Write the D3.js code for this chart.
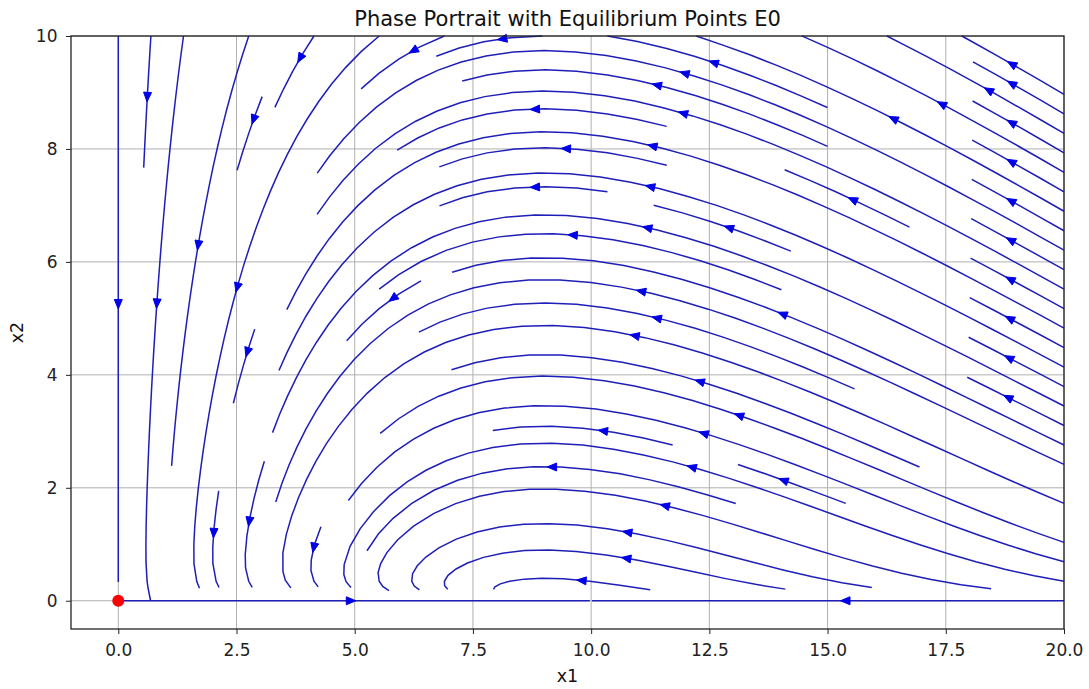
<!DOCTYPE html>
<html>
<head>
<meta charset="utf-8">
<script src="https://cdn.jsdelivr.net/npm/d3@7"></script>
<style>
  body { margin: 0; background: #fff; }
  svg { display: block; font-family: 'DejaVu Sans', sans-serif; }
</style>
</head>
<body>
<script>
// system: x1' = r*x1*(1 - x1/K) - a*x1*x2 ,  x2' = b*x1*x2 - d*x2
const preyGrowth = [1.0, 10.0]        // r, K
const interaction = [1.0, 1.0, 9.0]   // a, b, d
const x1Extent = [0, 20]
const x2Extent = [0, 10]
const gridPoints = [20, 20]
const equilibria = [[0, 0]]
const xTicks = [0, 2.5, 5, 7.5, 10, 12.5, 15, 17.5, 20]
const yTicks = [0, 2, 4, 6, 8, 10]

const W = 1089, H = 689
const margin = { left: 71, right: 25, top: 36, bottom: 60 }

const field = (x1, x2) => {
    const [r, K] = preyGrowth
    const [a, b, d] = interaction
    return [r * x1 * (1 - x1 / K) - a * x1 * x2, b * x1 * x2 - d * x2]
}

// same idea as matplotlib's streamplot (density 1)
const buildStreamlines = () => {
    const [nx, ny] = gridPoints
    const dx = (x1Extent[1] - x1Extent[0]) / (nx - 1)
    const dy = (x2Extent[1] - x2Extent[0]) / (ny - 1)
    const ug = [], vg = [], speed = []
    for (let j = 0; j < ny; j++) {
        ug.push([]); vg.push([]); speed.push([])
        for (let i = 0; i < nx; i++) {
            const [u, v] = field(x1Extent[0] + i * dx, x2Extent[0] + j * dy)
            ug[j].push(u / dx)
            vg[j].push(v / dy)
            speed[j].push(Math.hypot(u / dx / (nx - 1), v / dy / (ny - 1)))
        }
    }

    const mnx = 30, mny = 30
    const mask = d3.range(mny).map(() => new Array(mnx).fill(0))
    let traj = [], current = null
    const g2mx = (mnx - 1) / (nx - 1), g2my = (mny - 1) / (ny - 1)

    const pyRound = v => {
        const f = Math.floor(v), r = v - f
        if (r > 0.5) return f + 1
        if (r < 0.5) return f
        return f % 2 === 0 ? f : f + 1
    }
    const toMask = (xg, yg) => [pyRound(xg * g2mx), pyRound(yg * g2my)]
    const within = (xi, yi) => xi >= 0 && xi <= nx - 1 && yi >= 0 && yi <= ny - 1

    const OOB = 'oob', TERM = 'term', INV = 'inv'

    const maskUpdate = (xm, ym) => {
        if (!current || current[0] !== xm || current[1] !== ym) {
            if (mask[ym][xm] === 0) {
                traj.push([ym, xm])
                mask[ym][xm] = 1
                current = [xm, ym]
            } else {
                throw INV
            }
        }
    }
    const updateTraj = (xg, yg) => {
        if (!within(xg, yg)) throw INV
        const [xm, ym] = toMask(xg, yg)
        maskUpdate(xm, ym)
    }

    const interp = (a, xi, yi) => {
        const x = Math.trunc(xi), y = Math.trunc(yi)
        const xn = x === nx - 1 ? x : x + 1
        const yn = y === ny - 1 ? y : y + 1
        const xt = xi - x, yt = yi - y
        const a0 = a[y][x] * (1 - xt) + a[y][xn] * xt
        const a1 = a[yn][x] * (1 - xt) + a[yn][xn] * xt
        return a0 * (1 - yt) + a1 * yt
    }

    const forward = (xi, yi) => {
        if (!within(xi, yi)) throw OOB
        const ds = interp(speed, xi, yi)
        if (ds === 0) throw TERM
        return [interp(ug, xi, yi) / ds, interp(vg, xi, yi) / ds]
    }
    const backward = (xi, yi) => {
        const [a, b] = forward(xi, yi)
        return [-a, -b]
    }

    const eulerStep = (pts, f) => {
        const [xi, yi] = pts[pts.length - 1]
        const [cx, cy] = f(xi, yi)
        const dsx = cx === 0 ? Infinity : cx < 0 ? xi / -cx : (nx - 1 - xi) / cx
        const dsy = cy === 0 ? Infinity : cy < 0 ? yi / -cy : (ny - 1 - yi) / cy
        const ds = Math.min(dsx, dsy)
        pts.push([xi + cx * ds, yi + cy * ds])
        return ds
    }

    const maxlength = 4.0, minlength = 0.1
    const rk12 = (x0, y0, f) => {
        const maxerror = 0.003
        const maxds = Math.min(1 / mnx, 1 / mny, 0.1)
        let ds = maxds, stotal = 0, xi = x0, yi = y0
        const pts = []
        while (true) {
            let k1, k2
            try {
                if (within(xi, yi)) pts.push([xi, yi])
                else throw OOB
                k1 = f(xi, yi)
                k2 = f(xi + ds * k1[0], yi + ds * k1[1])
            } catch (e) {
                if (e === OOB) {
                    if (pts.length) {
                        try { stotal += eulerStep(pts, f) } catch (e2) { }
                    }
                    break
                }
                if (e === TERM) break
                throw e
            }
            const dx1 = ds * k1[0], dy1 = ds * k1[1]
            const dx2 = ds * 0.5 * (k1[0] + k2[0]), dy2 = ds * 0.5 * (k1[1] + k2[1])
            const error = Math.hypot((dx2 - dx1) / (nx - 1), (dy2 - dy1) / (ny - 1))
            if (error < maxerror) {
                xi += dx2
                yi += dy2
                try {
                    updateTraj(xi, yi)
                } catch (e) {
                    if (e === INV) break
                    throw e
                }
                if (stotal + ds > maxlength) break
                stotal += ds
            }
            ds = error === 0 ? maxds : Math.min(maxds, 0.85 * ds * Math.sqrt(maxerror / error))
        }
        return [stotal, pts]
    }

    const integrate = (x0, y0) => {
        traj = []
        try {
            const [xm, ym] = toMask(x0, y0)
            maskUpdate(xm, ym)
        } catch (e) {
            return null
        }
        let stotal = 0
        let [s, pts] = rk12(x0, y0, backward)
        stotal += s
        let line = pts.slice().reverse()
        current = toMask(x0, y0)
        ;[s, pts] = rk12(x0, y0, forward)
        stotal += s
        line = line.concat(pts.slice(1))
        if (stotal > minlength) return line
        traj.forEach(([ym, xm]) => { mask[ym][xm] = 0 })
        return null
    }

    // spiral of seed points
    const seeds = []
    let xfirst = 0, yfirst = 1, xlast = mnx - 1, ylast = mny - 1
    let x = 0, y = 0, dir = 'right'
    for (let i = 0; i < mnx * mny; i++) {
        seeds.push([x, y])
        if (dir === 'right') {
            x += 1
            if (x >= xlast) { xlast -= 1; dir = 'up' }
        } else if (dir === 'up') {
            y += 1
            if (y >= ylast) { ylast -= 1; dir = 'left' }
        } else if (dir === 'left') {
            x -= 1
            if (x <= xfirst) { xfirst += 1; dir = 'down' }
        } else {
            y -= 1
            if (y <= yfirst) { yfirst += 1; dir = 'right' }
        }
    }

    const lines = []
    seeds.forEach(([xm, ym]) => {
        if (mask[ym][xm] === 0) {
            const t = integrate(xm / g2mx, ym / g2my)
            if (t) lines.push(t.map(([xg, yg]) => [x1Extent[0] + xg * dx, x2Extent[0] + yg * dy]))
        }
    })
    return lines
}

const drawPortrait = () => {
    const svg = d3.select('body').append('svg')
        .attr('width', W)
        .attr('height', H)

    svg.append('rect').attr('width', W).attr('height', H).attr('fill', '#fff')

    const x = d3.scaleLinear().domain([-1, 20]).range([margin.left, W - margin.right])
    const y = d3.scaleLinear().domain([-0.5, 10]).range([H - margin.bottom, margin.top])

    // grid
    svg.append('g')
        .selectAll('line')
        .data(xTicks)
        .enter()
        .append('line')
        .attr('x1', d => x(d)).attr('x2', d => x(d))
        .attr('y1', y.range()[0]).attr('y2', y.range()[1])
        .attr('stroke', '#b0b0b0')
        .attr('stroke-width', 1)
    svg.append('g')
        .selectAll('line')
        .data(yTicks)
        .enter()
        .append('line')
        .attr('y1', d => y(d)).attr('y2', d => y(d))
        .attr('x1', x.range()[0]).attr('x2', x.range()[1])
        .attr('stroke', '#b0b0b0')
        .attr('stroke-width', 1)

    const lines = buildStreamlines()
    const path = d3.line().x(d => x(d[0])).y(d => y(d[1]))

    svg.append('g')
        .selectAll('path')
        .data(lines)
        .enter()
        .append('path')
        .attr('d', path)
        .attr('fill', 'none')
        .attr('stroke', '#1e1eb8')
        .attr('stroke-width', 1.5)

    // arrow half way along each line
    const arrows = lines.map(pts => {
        const s = []
        let acc = 0
        for (let i = 1; i < pts.length; i++) {
            acc += Math.hypot(pts[i][0] - pts[i - 1][0], pts[i][1] - pts[i - 1][1])
            s.push(acc)
        }
        const n = d3.bisectLeft(s, acc / 2)
        const tail = pts[n]
        const next = pts[Math.min(n + 1, pts.length - 1)]
        const head = [(tail[0] + next[0]) / 2, (tail[1] + next[1]) / 2]
        return [tail, head]
    })

    svg.append('g')
        .selectAll('path')
        .data(arrows)
        .enter()
        .append('path')
        .attr('d', ([tail, head]) => {
            const hx = x(head[0]), hy = y(head[1])
            let ux = hx - x(tail[0]), uy = hy - y(tail[1])
            const len = Math.hypot(ux, uy) || 1
            ux /= len; uy /= len
            const L = 9.5, Wd = 4
            const bx = hx - ux * L, by = hy - uy * L
            return `M${hx},${hy}L${bx - uy * Wd},${by + ux * Wd}L${bx + uy * Wd},${by - ux * Wd}Z`
        })
        .attr('fill', '#0000e6')
        .attr('stroke', '#0000e6')
        .attr('stroke-width', 1)

    svg.append('g')
        .selectAll('circle')
        .data(equilibria)
        .enter()
        .append('circle')
        .attr('cx', d => x(d[0]))
        .attr('cy', d => y(d[1]))
        .attr('r', 6)
        .attr('fill', '#ff0000')

    // axes
    const xAxis = svg.append('g')
        .attr('transform', `translate(0, ${y.range()[0]})`)
        .call(d3.axisBottom(x).tickValues(xTicks).tickFormat(d3.format('.1f')).tickSize(5).tickSizeOuter(0))
    const yAxis = svg.append('g')
        .attr('transform', `translate(${x.range()[0]}, 0)`)
        .call(d3.axisLeft(y).tickValues(yTicks).tickFormat(d3.format('d')).tickSize(5).tickSizeOuter(0))
    ;[xAxis, yAxis].forEach(g => {
        g.select('.domain').remove()
        g.attr('font-size', null).attr('font-family', null)
        g.selectAll('text').style('font-family', 'DejaVu Sans').style('font-size', '17px').attr('fill', '#222')
        g.selectAll('line').attr('stroke', '#222')
    })
    xAxis.selectAll('text').attr('y', 12.5).attr('dy', '0.85em')
    yAxis.selectAll('text').attr('x', -13.5)

    svg.append('rect')
        .attr('x', x.range()[0])
        .attr('y', y.range()[1])
        .attr('width', x.range()[1] - x.range()[0])
        .attr('height', y.range()[0] - y.range()[1])
        .attr('fill', 'none')
        .attr('stroke', '#222')
        .attr('stroke-width', 1.3)

    svg.append('text')
        .attr('x', (x.range()[0] + x.range()[1]) / 2)
        .attr('y', 26)
        .attr('text-anchor', 'middle')
        .style('font-size', '21px')
        .attr('fill', '#111')
        .text('Phase Portrait with Equilibrium Points E0')

    svg.append('text')
        .attr('x', (x.range()[0] + x.range()[1]) / 2)
        .attr('y', 682)
        .attr('text-anchor', 'middle')
        .style('font-size', '17.5px')
        .attr('fill', '#111')
        .text('x1')

    svg.append('text')
        .attr('transform', `translate(23, ${(y.range()[0] + y.range()[1]) / 2}) rotate(-90)`)
        .attr('text-anchor', 'middle')
        .style('font-size', '17.5px')
        .attr('fill', '#111')
        .text('x2')
}

drawPortrait()
</script>
</body>
</html>
